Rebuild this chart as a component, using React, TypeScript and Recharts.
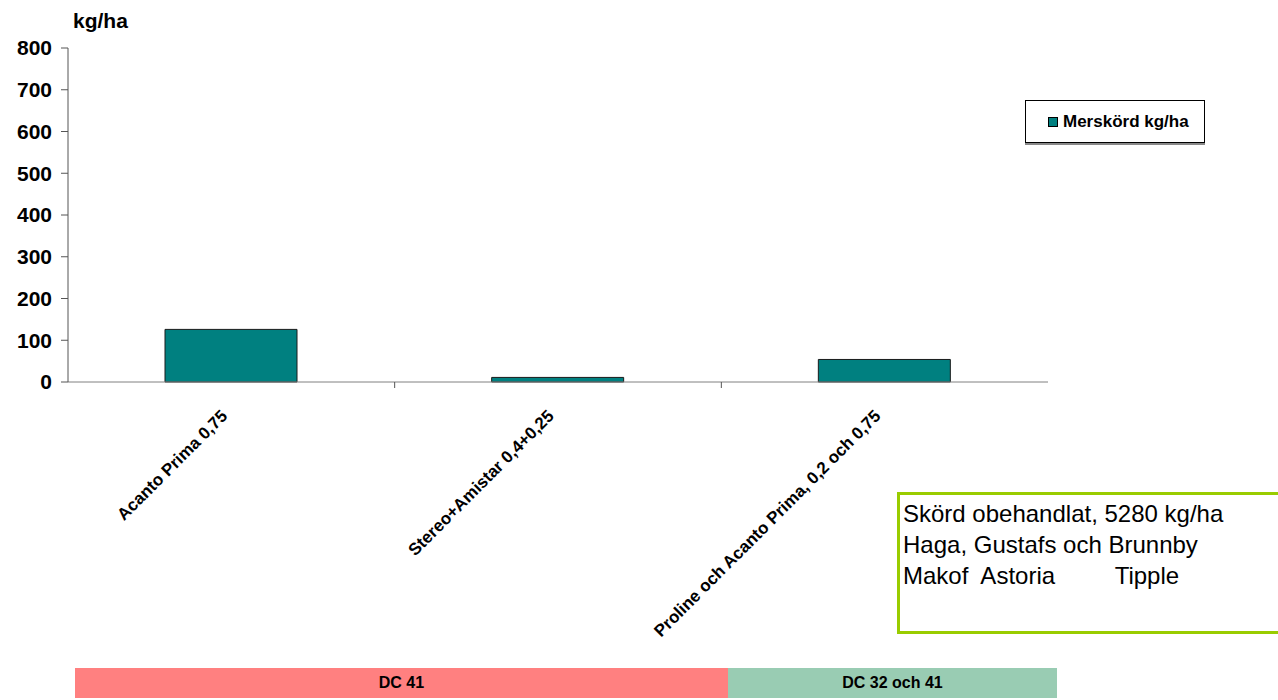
import React from "react";
import { BarChart, Bar, XAxis, YAxis, Legend } from "recharts";

// behandlingar och merskörd (kg/ha)
const treatments = [
  "Acanto Prima 0,75",
  "Stereo+Amistar 0,4+0,25",
  "Proline och Acanto Prima,  0,2 och 0,75",
];
const merskord = [126, 11, 54];
const yTicks = [0, 100, 200, 300, 400, 500, 600, 700, 800];

const infoLines = [
  "Skörd obehandlat, 5280 kg/ha",
  "Haga, Gustafs och Brunnby",
  "Makof  Astoria         Tipple",
];

const stages = [
  { label: "DC 41", color: "#FF8080", left: 75, width: 653 },
  { label: "DC 32 och 41", color: "#99CCB3", left: 728, width: 329 },
];

const FONT = '"Liberation Sans", Arial, sans-serif';
const TEAL = "#008080";

const data = treatments.map((name, i) => ({ name, value: merskord[i] }));

const XTick = (props: any) => {
  const { x, y, payload, index } = props;
  const half = payload.offset || 0;
  const ax = x - 3;
  const ay = y + 35;
  return (
    <g>
      {index < treatments.length - 1 && (
        <line x1={x + half} x2={x + half} y1={y} y2={y + 6} stroke="#555" />
      )}
      <text
        x={ax}
        y={ay}
        transform={`rotate(-45, ${ax}, ${ay})`}
        textAnchor="end"
        fontFamily={FONT}
        fontWeight="bold"
        fontSize={17}
        fill="#000"
      >
        {payload.value}
      </text>
    </g>
  );
};

const LegendBox = () => (
  <div
    style={{
      width: 180,
      height: 43,
      boxSizing: "border-box",
      border: "1px solid #000",
      boxShadow: "0 2px 0 #888",
      background: "#fff",
      display: "flex",
      alignItems: "center",
      fontFamily: FONT,
      fontWeight: "bold",
      fontSize: 17,
    }}
  >
    <span
      style={{
        display: "inline-block",
        boxSizing: "border-box",
        width: 10,
        height: 10,
        background: TEAL,
        border: "1px solid #000",
        marginLeft: 22,
        marginRight: 5,
      }}
    />
    Merskörd kg/ha
  </div>
);

export default function App() {
  return (
    <div style={{ position: "absolute", left: 0, top: 0, width: 1278, height: 700, background: "#fff", overflow: "hidden" }}>
      <div style={{ position: "absolute", left: 73, top: 9, fontFamily: FONT, fontWeight: "bold", fontSize: 21 }}>
        kg/ha
      </div>
      <BarChart
        width={1278}
        height={700}
        data={data}
        margin={{ top: 48, right: 230, left: 8, bottom: 218 }}
        barSize={132}
      >
        <XAxis
          dataKey="name"
          height={100}
          tick={<XTick />}
          tickLine={false}
          tickSize={0}
          tickMargin={0}
          interval={0}
          stroke="#808080"
        />
        <YAxis
          domain={[0, 800]}
          ticks={yTicks}
          width={60}
          tickSize={7}
          tickMargin={9}
          stroke="#555"
          tick={{ fill: "#000", fontFamily: FONT, fontWeight: "bold", fontSize: 21 }}
        />
        <Legend
          layout="vertical"
          align="center"
          verticalAlign="middle"
          content={<LegendBox />}
          wrapperStyle={{ position: "absolute", left: 1025, top: 100, width: 182 }}
        />
        <Bar dataKey="value" name="Merskörd kg/ha" fill={TEAL} stroke="#1a1a1a" strokeWidth={1} isAnimationActive={false} />
      </BarChart>

      <div
        style={{
          position: "absolute",
          left: 897,
          top: 492,
          width: 420,
          height: 142,
          border: "3px solid #99CC00",
          fontFamily: FONT,
          fontSize: 24,
          lineHeight: "31px",
          paddingLeft: 3,
          paddingTop: 3,
          whiteSpace: "pre",
          boxSizing: "border-box",
        }}
      >
        {infoLines.map((l) => (
          <div key={l}>{l}</div>
        ))}
      </div>

      {stages.map((s) => (
        <div
          key={s.label}
          style={{
            position: "absolute",
            left: s.left,
            top: 668,
            width: s.width,
            height: 30,
            background: s.color,
            display: "flex",
            alignItems: "center",
            justifyContent: "center",
            fontFamily: FONT,
            fontWeight: "bold",
            fontSize: 16,
          }}
        >
          {s.label}
        </div>
      ))}
    </div>
  );
}
